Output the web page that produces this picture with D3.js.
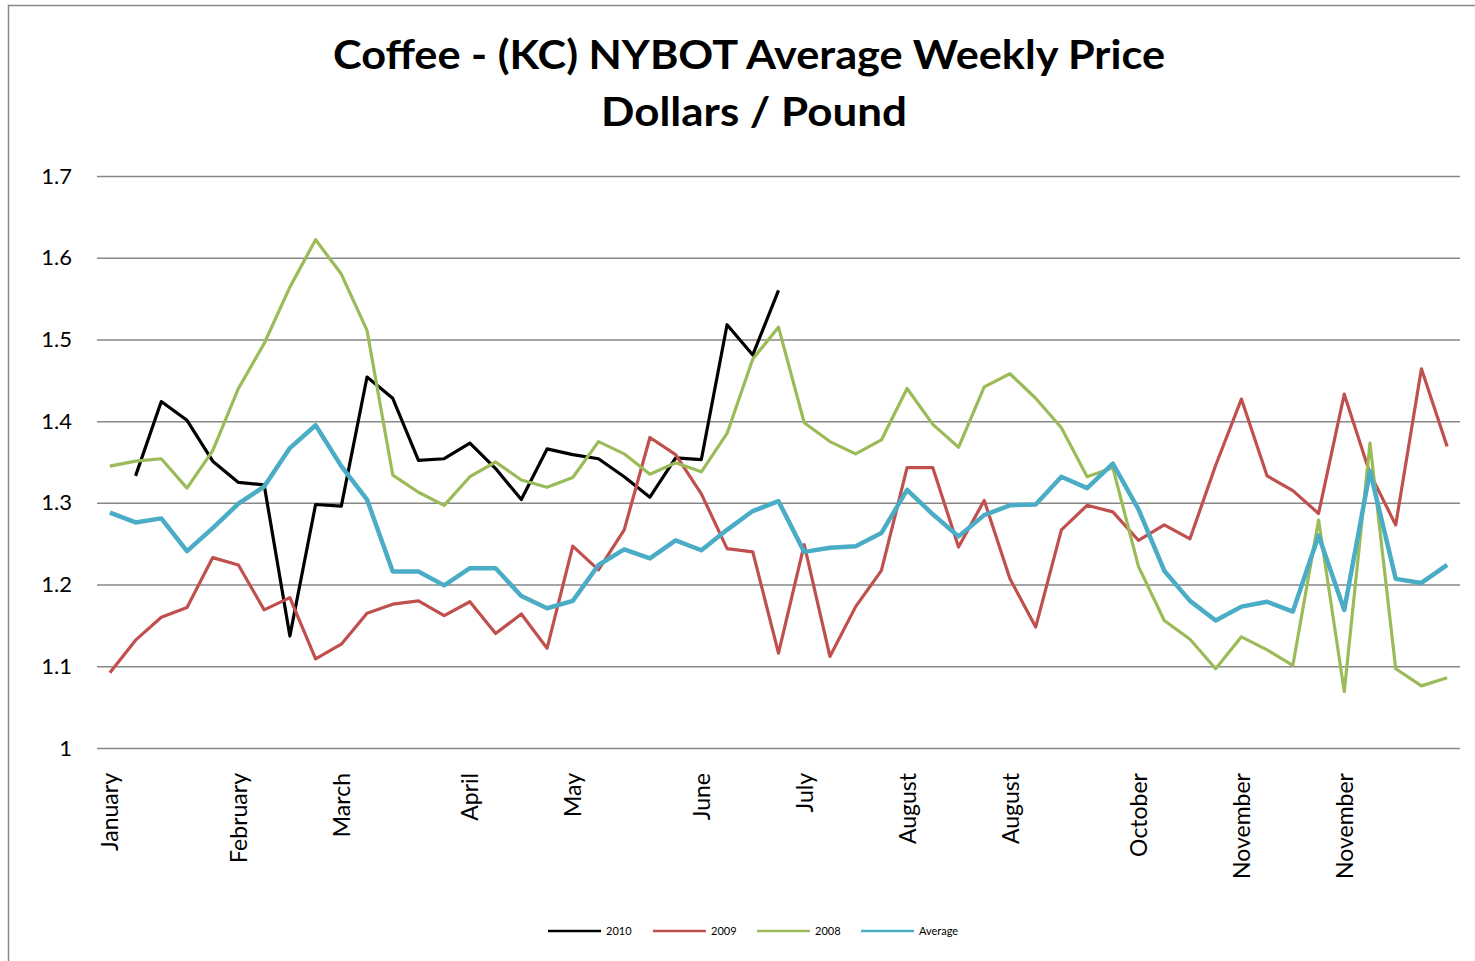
<!DOCTYPE html>
<html>
<head>
<meta charset="utf-8">
<script src="https://cdn.jsdelivr.net/npm/d3@7"></script>
<style>
  body { margin: 0; background: #fff; }
  text { font-family: Lato, "Open Sans", sans-serif; fill: #000; }
</style>
</head>
<body>
<div id="viz"></div>
<script>
// weekly prices, 53 weeks
const weeks = d3.range(53);

const price2010 = [null, 1.333, 1.424, 1.401, 1.351, 1.325, 1.322, 1.137, 1.298, 1.296,
  1.454, 1.428, 1.352, 1.354, 1.373, 1.342, 1.304, 1.366, 1.359, 1.354,
  1.332, 1.307, 1.355, 1.353, 1.518, 1.481, 1.560];

const price2009 = [1.092, 1.132, 1.160, 1.172, 1.233, 1.224, 1.169, 1.184, 1.109, 1.127,
  1.165, 1.176, 1.180, 1.162, 1.179, 1.140, 1.164, 1.122, 1.247, 1.218,
  1.267, 1.380, 1.359, 1.311, 1.244, 1.240, 1.116, 1.249, 1.112, 1.173,
  1.217, 1.343, 1.343, 1.246, 1.303, 1.207, 1.148, 1.267, 1.297, 1.289,
  1.254, 1.273, 1.256, 1.346, 1.427, 1.333, 1.315, 1.287, 1.433, 1.336,
  1.273, 1.464, 1.369];

const price2008 = [1.345, 1.351, 1.354, 1.318, 1.364, 1.440, 1.495, 1.564, 1.622, 1.580,
  1.511, 1.334, 1.313, 1.297, 1.332, 1.350, 1.328, 1.319, 1.331, 1.375,
  1.360, 1.335, 1.349, 1.338, 1.385, 1.476, 1.515, 1.398, 1.375, 1.360,
  1.377, 1.440, 1.396, 1.368, 1.442, 1.458, 1.428, 1.392, 1.332, 1.343,
  1.222, 1.156, 1.133, 1.097, 1.136, 1.120, 1.101, 1.279, 1.069, 1.373,
  1.097, 1.076, 1.086];

const priceAvg = [1.288, 1.276, 1.281, 1.241, 1.269, 1.299, 1.320, 1.367, 1.395, 1.345,
  1.304, 1.216, 1.216, 1.199, 1.220, 1.220, 1.186, 1.171, 1.180, 1.224,
  1.243, 1.232, 1.254, 1.242, 1.267, 1.290, 1.302, 1.240, 1.245, 1.247,
  1.263, 1.316, 1.286, 1.259, 1.285, 1.297, 1.298, 1.332, 1.318, 1.348,
  1.292, 1.217, 1.180, 1.156, 1.173, 1.179, 1.167, 1.260, 1.169, 1.339,
  1.207, 1.202, 1.224];

// x labels only shown on some weeks
const labelWeeks = [0, 5, 9, 14, 18, 23, 27, 31, 35, 40, 44, 48];
const monthLabels = ["January", "February", "March", "April", "May", "June",
  "July", "August", "August", "October", "November", "November"];

const yTicks = [1, 1.1, 1.2, 1.3, 1.4, 1.5, 1.6, 1.7];

const seriesNames = ["2010", "2009", "2008", "Average"];
const seriesData = [price2010, price2009, price2008, priceAvg];
const seriesColors = ["#000000", "#c0504d", "#9bbb59", "#4bacc6"];
const seriesWidths = [3.2, 3.2, 3.2, 4.5];

const width = 1475;
const height = 961;
const plotLeft = 97, plotRight = 1460, plotTop = 176, plotBottom = 748;

const svg = d3.select("#viz")
  .append("svg")
  .attr("width", width)
  .attr("height", height);

// outer chart frame
svg.append("rect")
  .attr("x", 8.5).attr("y", 5.5)
  .attr("width", 1500).attr("height", 1000)
  .attr("fill", "none")
  .attr("stroke", "#888")
  .attr("stroke-width", 1.5);

const x = d3.scalePoint()
  .domain(weeks)
  .range([plotLeft, plotRight])
  .padding(0.5);

const y = d3.scaleLinear()
  .domain([1, 1.7])
  .range([plotBottom, plotTop]);

// gridlines
svg.append("g")
  .attr("transform", `translate(${plotLeft},0)`)
  .call(d3.axisLeft(y).tickValues(yTicks).tickSize(-(plotRight - plotLeft)).tickFormat(""))
  .call(g => g.select(".domain").remove())
  .selectAll("line")
  .attr("stroke", "#878787")
  .attr("stroke-width", 1.5);

// y labels
svg.append("g")
  .attr("transform", `translate(${plotLeft},0)`)
  .call(d3.axisLeft(y).tickValues(yTicks).tickSize(0).tickPadding(25)
    .tickFormat(d => +d.toFixed(1)))
  .call(g => g.select(".domain").remove())
  .selectAll("text")
  .style("font-size", "22px")
  .style("font-family", "Lato, sans-serif");

// x labels
svg.append("g")
  .attr("transform", `translate(0,${plotBottom})`)
  .call(d3.axisBottom(x).tickValues(labelWeeks).tickSize(0)
    .tickFormat(d => monthLabels[labelWeeks.indexOf(d)]))
  .call(g => g.select(".domain").remove())
  .selectAll("text")
  .attr("transform", "rotate(-90)")
  .attr("x", -25)
  .attr("y", 0)
  .attr("dy", "0.35em")
  .attr("text-anchor", "end")
  .style("font-size", "23px")
  .style("font-family", "Lato, sans-serif");

// lines
const line = d3.line()
  .defined(d => d != null)
  .x((d, i) => x(i))
  .y(d => y(d));

svg.append("g")
  .selectAll("path")
  .data(seriesData)
  .enter()
  .append("path")
  .attr("d", d => line(d))
  .attr("fill", "none")
  .attr("stroke", (d, i) => seriesColors[i])
  .attr("stroke-width", (d, i) => seriesWidths[i])
  .attr("stroke-linejoin", "round");

// title
const title = svg.append("g")
  .attr("font-weight", "bold")
  .attr("text-anchor", "middle");
title.append("text")
  .attr("x", 749).attr("y", 69)
  .style("font-size", "40px")
  .attr("textLength", 832)
  .attr("lengthAdjust", "spacingAndGlyphs")
  .text("Coffee - (KC) NYBOT Average Weekly Price");
title.append("text")
  .attr("x", 754).attr("y", 126)
  .style("font-size", "40px")
  .attr("textLength", 306)
  .attr("lengthAdjust", "spacingAndGlyphs")
  .text("Dollars / Pound");

// legend
const legendX = [548, 653, 757, 861];
const legend = svg.append("g")
  .selectAll("g")
  .data(seriesNames)
  .enter()
  .append("g")
  .attr("transform", (d, i) => `translate(${legendX[i]},931)`);
legend.append("line")
  .attr("x1", 0).attr("x2", 53)
  .attr("stroke", (d, i) => seriesColors[i])
  .attr("stroke-width", 2.5);
legend.append("text")
  .attr("x", 58)
  .attr("dy", "0.35em")
  .style("font-size", "11px")
  .text(d => d);
</script>
</body>
</html>
